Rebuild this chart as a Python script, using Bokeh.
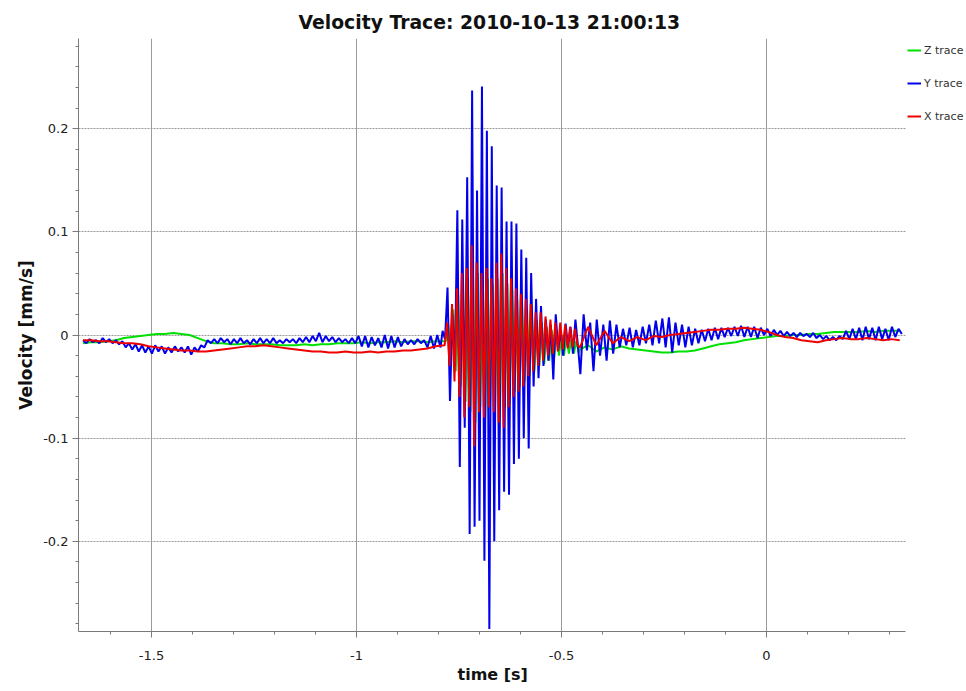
from bokeh.plotting import figure
from bokeh.models import FixedTicker, Legend, LegendItem, Range1d, Title
from bokeh.embed import file_html
from bokeh.resources import INLINE

# ---------------- data ----------------
title_text = "Velocity Trace: 2010-10-13 21:00:13"
x_title = "time [s]"
y_title = "Velocity [mm/s]"
series_names = ["Z trace", "Y trace", "X trace"]

x_start, x_end = -1.678, 0.339
y_start, y_end = -0.2875, 0.2875
x_major = [-1.5, -1.0, -0.5, 0.0]
x_labels = ["-1.5", "-1", "-0.5", "0"]
x_minor = [-1.6, -1.4, -1.3, -1.2, -1.1, -0.9, -0.8, -0.7, -0.6,
           -0.4, -0.3, -0.2, -0.1, 0.1, 0.2, 0.3]
y_major = [-0.2, -0.1, 0.0, 0.1, 0.2]
y_labels = ["-0.2", "-0.1", "0", "0.1", "0.2"]
y_minor = [-0.28, -0.26, -0.24, -0.22, -0.18, -0.16, -0.14, -0.12,
           -0.08, -0.06, -0.04, -0.02, 0.02, 0.04, 0.06, 0.08,
           0.12, 0.14, 0.16, 0.18, 0.22, 0.24, 0.26, 0.28]

# Y trace (blue): three sampled pieces (start time, step, values)
y_pre_start, y_pre_step = -1.667, 0.008
y_pre = [-0.005, -0.008, -0.004, -0.007, -0.005, -0.008, -0.003, -0.007, -0.004, -0.008,
         -0.005, -0.009, -0.006, -0.012, -0.008, -0.014, -0.009, -0.016, -0.010, -0.017,
         -0.011, -0.018, -0.010, -0.016, -0.011, -0.018, -0.012, -0.017, -0.011, -0.016,
         -0.012, -0.017, -0.011, -0.019, -0.012, -0.016, -0.010, -0.012, -0.005, -0.008,
         -0.004, -0.008, -0.003, -0.007, -0.004, -0.009, -0.004, -0.008, -0.003, -0.008,
         -0.005, -0.009, -0.004, -0.008, -0.003, -0.008, -0.004, -0.008, -0.003, -0.008,
         -0.005, -0.008, -0.004, -0.007, -0.004, -0.008, -0.003, -0.007, -0.002, -0.007,
         -0.001, -0.006, 0.002, -0.007, -0.001, -0.006, -0.002, -0.007, -0.003, -0.007,
         -0.004, -0.008, -0.003, -0.008, -0.001, -0.011, -0.001, -0.012, -0.002, -0.010,
         -0.003, -0.012, 0.000, -0.013, -0.001, -0.012, -0.002, -0.011, -0.004, -0.009,
         -0.005, -0.009, -0.004, -0.008, -0.005, -0.012, -0.001, -0.013, 0.000, -0.012]
y_burst_start, y_burst_step = -0.790, 0.006
y_burst = [0.004, -0.004, 0.046, -0.064, 0.020, -0.030, 0.121, -0.128, 0.112, -0.090,
           0.153, -0.193, 0.237, -0.186, 0.140, -0.180, 0.241, -0.219, 0.198, -0.285,
           0.183, -0.200, 0.145, -0.170, 0.143, -0.152, 0.110, -0.155, 0.110, -0.125,
           0.108, -0.120, 0.083, -0.100, 0.075, -0.110, 0.060, -0.050, 0.035, -0.042,
           0.028, -0.030, 0.015, -0.025, 0.010, -0.043, 0.020, -0.015, 0.005, -0.020,
           0.011, -0.012, 0.008, -0.018, 0.015, -0.010]
y_post_start, y_post_step = -0.454, 0.008
y_post = [-0.038, 0.020, -0.015, 0.012, -0.035, 0.015, -0.020, 0.010, -0.025, 0.014,
          -0.018, 0.010, -0.012, 0.006, -0.010, 0.007, -0.012, 0.005, -0.010, 0.008,
          -0.008, 0.010, -0.010, 0.014, -0.008, 0.016, -0.012, 0.017, -0.017, 0.012,
          -0.010, 0.010, -0.012, 0.008, -0.010, 0.006, -0.008, 0.005, -0.006, 0.006,
          -0.005, 0.007, -0.004, 0.007, -0.002, 0.007, -0.001, 0.008, -0.001, 0.009,
          -0.002, 0.008, -0.002, 0.008, -0.003, 0.007, 0.000, 0.006, -0.001, 0.005,
          0.000, 0.004, -0.001, 0.003, -0.001, 0.002, -0.002, 0.002, -0.001, 0.001,
          -0.002, 0.002, -0.003, 0.000, -0.004, -0.001, -0.005, -0.002, -0.005, -0.001,
          -0.004, 0.004, -0.004, 0.006, -0.004, 0.007, -0.005, 0.008, -0.004, 0.007,
          -0.005, 0.008, -0.004, 0.006, -0.005, 0.008, -0.002, 0.006, 0.001]

# Z trace (green)
z_pre_start, z_pre_step = -1.667, 0.02
z_pre = [-0.008, -0.007, -0.007, -0.006, -0.005, -0.003, -0.002, -0.001, 0.000, 0.001,
         0.001, 0.002, 0.001, 0.000, -0.003, -0.006, -0.008, -0.008, -0.009, -0.009,
         -0.008, -0.009, -0.009, -0.009, -0.010, -0.010, -0.010, -0.009, -0.010, -0.009,
         -0.009, -0.008, -0.008, -0.008, -0.007, -0.008, -0.007, -0.007, -0.006, -0.007,
         -0.006, -0.006, -0.007, -0.006]
z_burst_start, z_burst_step = -0.782, 0.006
z_burst = [-0.006, 0.010, -0.025, 0.025, -0.035, 0.040, -0.050, 0.050, -0.065, 0.055,
           -0.075, 0.063, -0.085, 0.060, -0.070, 0.058, -0.080, 0.055, -0.065, 0.050,
           -0.070, 0.055, -0.075, 0.060, -0.070, 0.050, -0.060, 0.045, -0.055, 0.035,
           -0.050, 0.030, -0.045, 0.025, -0.040, 0.020, -0.035, 0.015, -0.030, 0.012,
           -0.028, 0.008, -0.025, 0.005, -0.022, 0.003, -0.020, 0.000, -0.020, -0.002,
           -0.018, -0.004, -0.018, -0.006, -0.017]
z_post_start, z_post_step = -0.455, 0.02
z_post = [-0.014, -0.010, -0.016, -0.012, -0.014, -0.011, -0.013, -0.014, -0.015, -0.016,
          -0.017, -0.017, -0.016, -0.016, -0.015, -0.013, -0.011, -0.009, -0.008, -0.007,
          -0.005, -0.004, -0.003, -0.002, -0.001, -0.001, 0.000, 0.000, 0.001, 0.001,
          0.002, 0.003, 0.003, 0.003, 0.003, 0.004, 0.003, 0.004, 0.004, 0.004]

# X trace (red)
x_pre_start, x_pre_step = -1.667, 0.02
x_pre = [-0.005, -0.005, -0.006, -0.006, -0.007, -0.008, -0.008, -0.009, -0.011, -0.012,
         -0.013, -0.014, -0.015, -0.015, -0.016, -0.016, -0.015, -0.014, -0.013, -0.012,
         -0.011, -0.011, -0.010, -0.011, -0.012, -0.013, -0.014, -0.015, -0.016, -0.016,
         -0.017, -0.017, -0.016, -0.017, -0.017, -0.016, -0.017, -0.016, -0.016, -0.015,
         -0.015, -0.014, -0.013, -0.011]
x_burst_start, x_burst_step = -0.785, 0.006
x_burst = [-0.010, 0.012, -0.030, 0.030, -0.045, 0.045, -0.060, 0.060, -0.080, 0.065,
           -0.070, 0.087, -0.108, 0.070, -0.075, 0.060, -0.080, 0.065, -0.070, 0.055,
           -0.075, 0.070, -0.085, 0.079, -0.090, 0.065, -0.070, 0.055, -0.060, 0.045,
           -0.055, 0.040, -0.050, 0.035, -0.040, 0.030, -0.035, 0.022, -0.030, 0.022,
           -0.025, 0.018, -0.020, 0.015, -0.018, 0.012, -0.016, 0.012, -0.014, 0.010,
           -0.013, 0.008, -0.012, 0.006, -0.010]
x_post_start, x_post_step = -0.455, 0.02
x_post = [-0.012, 0.008, -0.010, 0.004, -0.008, -0.002, -0.006, -0.002, -0.005, -0.001,
          -0.002, 0.000, 0.001, 0.002, 0.003, 0.004, 0.005, 0.005, 0.006, 0.006,
          0.007, 0.006, 0.005, 0.003, 0.000, -0.002, -0.003, -0.005, -0.006, -0.007,
          -0.005, -0.004, -0.003, -0.004, -0.004, -0.003, -0.004, -0.005, -0.004, -0.005]


def sampled(pieces):
    ts, vs = [], []
    for t0, dt, vals in pieces:
        ts += [round(t0 + dt * i, 5) for i in range(len(vals))]
        vs += list(vals)
    return ts, vs


z_t, z_v = sampled([(z_pre_start, z_pre_step, z_pre), (z_burst_start, z_burst_step, z_burst),
                    (z_post_start, z_post_step, z_post)])
y_t, y_v = sampled([(y_pre_start, y_pre_step, y_pre), (y_burst_start, y_burst_step, y_burst),
                    (y_post_start, y_post_step, y_post)])
x_t, x_v = sampled([(x_pre_start, x_pre_step, x_pre), (x_burst_start, x_burst_step, x_burst),
                    (x_post_start, x_post_step, x_post)])

# ---------------- figure ----------------
FONT = "DejaVu Sans"
W, H = 966, 691
LEFT, TOP, BOTTOM = 78, 38, 60
plot_w = 827  # pixels covered by the time axis
px_per_s = plot_w / (x_end - x_start)
frame_w = W - LEFT
view_end = x_start + frame_w / px_per_s  # frame continues to the right edge to host the legend

p = figure(width=W, height=H, output_backend="svg", toolbar_location=None,
           x_range=Range1d(x_start, view_end), y_range=Range1d(y_start, y_end),
           min_border_left=LEFT, min_border_right=0, min_border_top=TOP, min_border_bottom=BOTTOM)
p.outline_line_color = None
p.background_fill_color = "white"
p.border_fill_color = "white"

p.title.text = title_text
p.title.align = "left"
p.title.offset = 220
p.title.text_font = FONT
p.title.text_font_size = "18.8px"
p.title.text_font_style = "bold"
p.title.text_color = "#111111"
p.title.standoff = 12

p.xaxis.ticker = FixedTicker(ticks=x_major, minor_ticks=x_minor)
p.yaxis.ticker = FixedTicker(ticks=y_major, minor_ticks=y_minor)
p.xaxis.major_label_overrides = {v: s for v, s in zip(x_major, x_labels)}
p.yaxis.major_label_overrides = {v: s for v, s in zip(y_major, y_labels)}
p.yaxis.axis_label = y_title
p.xaxis.bounds = (x_start, x_end)

for ax in (p.xaxis[0], p.yaxis[0]):
    ax.axis_line_color = "#7a7a7a"
    ax.major_tick_line_color = "#7a7a7a"
    ax.minor_tick_line_color = "#7a7a7a"
    ax.major_tick_in = 0
    ax.major_tick_out = 6
    ax.minor_tick_in = 0
    ax.minor_tick_out = 3
    ax.major_label_text_font = FONT
    ax.major_label_text_font_size = "13px"
    ax.major_label_text_color = "#222222"
    ax.axis_label_text_font = FONT
    ax.axis_label_text_font_size = "17px"
    ax.axis_label_text_font_style = "bold"
    ax.axis_label_text_color = "#111111"

p.xaxis.major_label_standoff = 13
p.yaxis.major_label_standoff = 4
p.yaxis.axis_label_standoff = 4

# x-axis title, centred under the time axis (not under the legend area)
xt = Title(text=x_title, align="left", offset=379, standoff=0,
           text_font=FONT, text_font_size="16px", text_font_style="bold", text_color="#111111")
p.add_layout(xt, "below")

p.xgrid.grid_line_color = "#9a9a9a"
p.xgrid.grid_line_width = 1
p.ygrid.grid_line_color = "#9a9a9a"
p.ygrid.grid_line_width = 1
p.ygrid.grid_line_dash = "2 1"
p.ygrid.cross_bounds = (x_start, x_end)

rz = p.line(z_t, z_v, line_color="#00e000", line_width=2)
ry = p.line(y_t, y_v, line_color="#0000ee", line_width=2)
rx = p.line(x_t, x_v, line_color="#ee0000", line_width=2)

legend = Legend(
    items=[LegendItem(label=series_names[0], renderers=[rz]),
           LegendItem(label=series_names[1], renderers=[ry]),
           LegendItem(label=series_names[2], renderers=[rx])],
    location=(plot_w + 2, 505), orientation="vertical",
    glyph_width=14, glyph_height=20, label_height=20, spacing=13,
    padding=0, margin=0, label_standoff=3,
    border_line_color=None, background_fill_alpha=0,
    label_text_font=FONT, label_text_font_size="11px", label_text_color="#333333",
)
p.add_layout(legend)

open("out.html", "w").write(file_html(p, INLINE))
